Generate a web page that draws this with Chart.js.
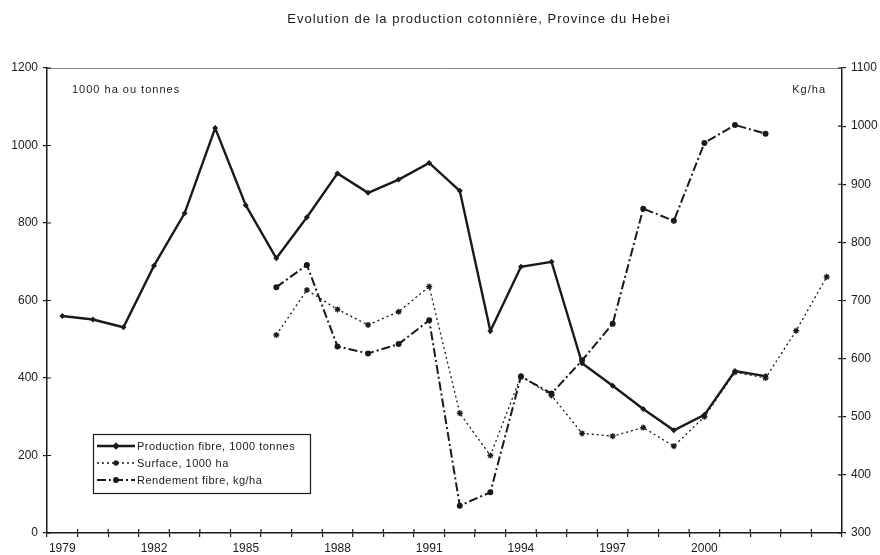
<!DOCTYPE html>
<html>
<head>
<meta charset="utf-8">
<script src="https://cdn.jsdelivr.net/npm/chart.js@4.4.0/dist/chart.umd.min.js"></script>
<style>
  body { margin: 0; background: #fff; }
  #wrap { width: 880px; height: 555px; position: relative; }
</style>
</head>
<body>
<div id="wrap"><canvas id="chart"></canvas></div>
<script>
// ---- data ----
const years = ['1979','1980','1981','1982','1983','1984','1985','1986','1987','1988','1989','1990','1991',
  '1992','1993','1994','1995','1996','1997','1998','1999','2000','2001','2002','2003','2004'];
const shownYears = ['1979','1982','1985','1988','1991','1994','1997','2000'];

const production = [560, 551, 531, 690, 825, 1045, 846, 709, 815, 928, 878, 912, 955,
  883, 521, 687, 700, 438, 380, 320, 265, 305, 418, 405, null, null];
const surface = [null, null, null, null, null, null, null, 511, 627, 577, 537, 571, 636,
  309, 200, 405, 355, 257, 250, 272, 224, 300, 415, 400, 522, 661];
const rendement = [null, null, null, null, null, null, null, 723, 761, 621, 609, 625, 666,
  347, 370, 569, 540, 597, 660, 858, 837, 971, 1002, 987, null, null];

const leftTicks = [0, 200, 400, 600, 800, 1000, 1200];
const rightTicks = [300, 400, 500, 600, 700, 800, 900, 1000, 1100];

const FONT = '"Liberation Sans", Arial, sans-serif';
const INK = '#1a1a1a';

// ---- small plugins: title, axis notes, crossing ticks, boxed legend ----
const decorations = {
  id: 'decorations',
  afterDatasetsDraw(chart) {
    const { ctx, chartArea, scales } = chart;
    ctx.save();

    // title
    ctx.fillStyle = INK;
    ctx.font = '13px ' + FONT;
    ctx.letterSpacing = '1px';
    ctx.textAlign = 'center';
    ctx.textBaseline = 'middle';
    ctx.fillText('Evolution de la production cotonnière, Province du Hebei', 479, 19);

    // unit notes inside the plot
    ctx.font = '11px ' + FONT;
    ctx.textAlign = 'left';
    ctx.fillText('1000 ha ou tonnes', chartArea.left + 25, chartArea.top + 22);
    ctx.textAlign = 'right';
    ctx.fillText('Kg/ha', chartArea.right - 16, chartArea.top + 22);
    ctx.letterSpacing = '0px';

    // grey top border
    ctx.strokeStyle = '#8a8a8a';
    ctx.lineWidth = 1;
    ctx.beginPath();
    ctx.moveTo(chartArea.left, chartArea.top + 0.5);
    ctx.lineTo(chartArea.right, chartArea.top + 0.5);
    ctx.stroke();

    // inner halves of the tick marks
    ctx.strokeStyle = INK;
    ctx.lineWidth = 1.2;
    ctx.beginPath();
    const x = scales.x;
    const n = years.length;
    for (let i = 1; i < n; i++) {
      const px = x.left + i * x.width / n;
      ctx.moveTo(px, x.top);
      ctx.lineTo(px, x.top - 4);
    }
    scales.y.ticks.forEach(t => {
      const py = scales.y.getPixelForValue(t.value);
      ctx.moveTo(scales.y.right, py);
      ctx.lineTo(scales.y.right + 4, py);
    });
    scales.y2.ticks.forEach(t => {
      const py = scales.y2.getPixelForValue(t.value);
      ctx.moveTo(scales.y2.left, py);
      ctx.lineTo(scales.y2.left - 4, py);
    });
    ctx.stroke();

    // legend box
    const bx = 93, by = 434, bw = 217, bh = 59;
    ctx.fillStyle = '#fff';
    ctx.fillRect(bx, by, bw, bh);
    ctx.strokeStyle = INK;
    ctx.lineWidth = 1.2;
    ctx.strokeRect(bx + 0.5, by + 0.5, bw, bh);
    ctx.font = '11px ' + FONT;
    ctx.textAlign = 'left';
    chart.data.datasets.forEach((ds, i) => {
      const ly = by + 12 + i * 17;
      ctx.strokeStyle = INK;
      ctx.lineWidth = ds.borderWidth;
      ctx.setLineDash(ds.borderDash || []);
      ctx.beginPath();
      ctx.moveTo(bx + 4, ly);
      ctx.lineTo(bx + 42, ly);
      ctx.stroke();
      ctx.setLineDash([]);
      ctx.fillStyle = INK;
      Chart.helpers.drawPoint(ctx, {
        pointStyle: ds.pointStyle, radius: Math.max(ds.pointRadius, 2), rotation: 0, borderWidth: 1
      }, bx + 23, ly);
      ctx.fillStyle = INK;
      ctx.letterSpacing = '0.5px';
      ctx.fillText(ds.label, bx + 44, ly + 0.5);
      ctx.letterSpacing = '0px';
    });

    ctx.restore();
  }
};

const plainTick = v => String(v);

new Chart(document.getElementById('chart'), {
  type: 'line',
  data: {
    labels: years,
    datasets: [
      {
        label: 'Production fibre, 1000 tonnes',
        data: production,
        yAxisID: 'y',
        borderColor: INK,
        backgroundColor: INK,
        borderWidth: 2.4,
        pointStyle: 'rectRot',
        pointRadius: 1.3,
        tension: 0
      },
      {
        label: 'Surface, 1000 ha',
        data: surface,
        yAxisID: 'y',
        borderColor: INK,
        backgroundColor: INK,
        borderWidth: 1.3,
        borderDash: [2, 3],
        pointStyle: 'star',
        pointRadius: 3,
        pointBorderWidth: 1.3,
        tension: 0
      },
      {
        label: 'Rendement fibre, kg/ha',
        data: rendement,
        yAxisID: 'y2',
        borderColor: INK,
        backgroundColor: INK,
        borderWidth: 2,
        borderDash: [9, 3, 2, 3],
        pointStyle: 'circle',
        pointRadius: 2,
        tension: 0
      }
    ]
  },
  options: {
    responsive: true,
    maintainAspectRatio: false,
    animation: false,
    layout: { padding: { top: 68, left: 0, right: 0, bottom: 0 } },
    plugins: {
      legend: { display: false },
      title: { display: false },
      tooltip: { enabled: false }
    },
    scales: {
      x: {
        type: 'category',
        offset: true,
        grid: { offset: true, drawOnChartArea: false, tickLength: 4, color: INK, lineWidth: 1.2 },
        border: { color: INK, width: 1.5 },
        ticks: {
          autoSkip: false,
          maxRotation: 0,
          padding: 4,
          color: INK,
          font: { family: FONT, size: 12 },
          callback: function(value) {
            const lbl = this.getLabelForValue(value);
            return shownYears.includes(lbl) ? lbl : '';
          }
        },
        afterFit(scale) { scale.height = 22; }
      },
      y: {
        position: 'left',
        min: 0,
        max: 1200,
        afterBuildTicks(scale) { scale.ticks = leftTicks.map(v => ({ value: v })); },
        grid: { drawOnChartArea: false, tickLength: 4, color: INK, lineWidth: 1.2 },
        border: { color: INK, width: 1.5 },
        ticks: { padding: 5, color: INK, font: { family: FONT, size: 12 }, callback: plainTick },
        afterFit(scale) { scale.width = 47; }
      },
      y2: {
        position: 'right',
        min: 300,
        max: 1100,
        afterBuildTicks(scale) { scale.ticks = rightTicks.map(v => ({ value: v })); },
        grid: { drawOnChartArea: false, tickLength: 4, color: INK, lineWidth: 1.2 },
        border: { color: INK, width: 1.5 },
        ticks: { padding: 5, color: INK, font: { family: FONT, size: 12 }, callback: plainTick },
        afterFit(scale) { scale.width = 38; }
      }
    }
  },
  plugins: [decorations]
});
</script>
</body>
</html>
